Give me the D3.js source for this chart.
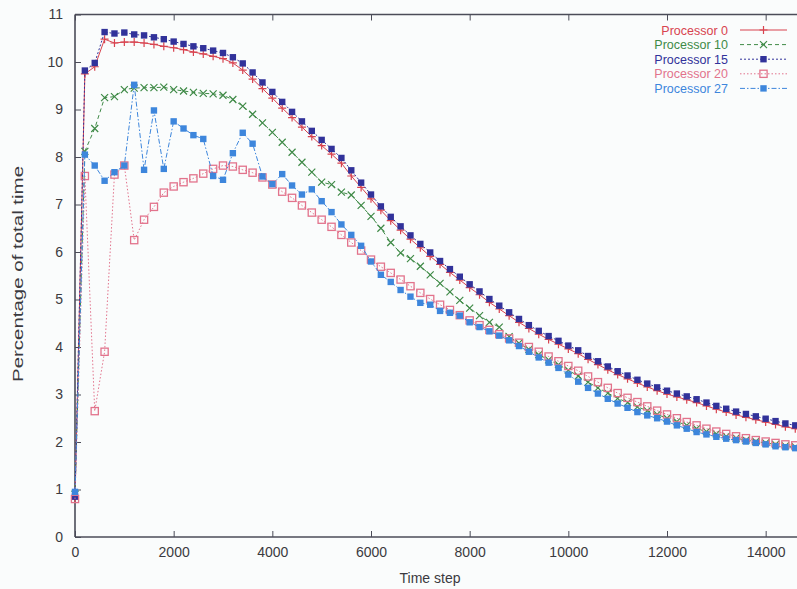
<!DOCTYPE html>
<html>
<head>
<meta charset="utf-8">
<script src="https://cdn.jsdelivr.net/npm/d3@7"></script>
<style>
  body { margin: 0; background: #fafcfc; }
  svg text { font-family: "Liberation Sans", Arial, sans-serif; }
</style>
</head>
<body>
<svg id="chart"></svg>
<script>
// sample positions (time steps)
const timeSteps = [
  0, 200, 400, 600, 800, 1000, 1200, 1400, 1600, 1800,
  2000, 2200, 2400, 2600, 2800, 3000, 3200, 3400, 3600, 3800,
  4000, 4200, 4400, 4600, 4800, 5000, 5200, 5400, 5600, 5800,
  6000, 6200, 6400, 6600, 6800, 7000, 7200, 7400, 7600, 7800,
  8000, 8200, 8400, 8600, 8800, 9000, 9200, 9400, 9600, 9800,
  10000, 10200, 10400, 10600, 10800, 11000, 11200, 11400, 11600, 11800,
  12000, 12200, 12400, 12600, 12800, 13000, 13200, 13400, 13600, 13800,
  14000, 14200, 14400, 14600, 14800, 15000
];

const proc0 = [
  0.8, 9.75, 9.9, 10.48, 10.4, 10.42, 10.42, 10.4, 10.37, 10.33,
  10.3, 10.26, 10.21, 10.17, 10.12, 10.07, 9.98, 9.83, 9.64, 9.44,
  9.24, 9.03, 8.83, 8.63, 8.43, 8.24, 8.06, 7.87, 7.6, 7.36,
  7.12, 6.88, 6.66, 6.46, 6.27, 6.09, 5.91, 5.74, 5.57, 5.41,
  5.25, 5.1, 4.94, 4.8, 4.66, 4.52, 4.39, 4.27, 4.16, 4.06,
  3.96, 3.86, 3.74, 3.63, 3.52, 3.42, 3.33, 3.24, 3.16, 3.08,
  3.01, 2.95, 2.89, 2.83, 2.76, 2.69, 2.63, 2.57, 2.52, 2.47,
  2.42, 2.37, 2.32, 2.28, 2.24, 2.2
];

const proc10 = [
  0.9, 8.12, 8.6, 9.25, 9.27, 9.42, 9.45, 9.46, 9.46, 9.47,
  9.42, 9.39, 9.36, 9.34, 9.33, 9.3, 9.21, 9.07, 8.9, 8.72,
  8.52, 8.31, 8.1, 7.89, 7.68, 7.47, 7.42, 7.26, 7.2, 6.98,
  6.75, 6.5, 6.2, 5.98, 5.86, 5.7, 5.52, 5.34, 5.16, 4.98,
  4.82, 4.66, 4.52, 4.42, 4.22, 4.08, 3.95, 3.84, 3.73, 3.63,
  3.51, 3.39, 3.26, 3.14, 3.03, 2.92, 2.83, 2.74, 2.66, 2.58,
  2.5, 2.43, 2.35, 2.28, 2.22, 2.17, 2.12, 2.08, 2.04, 2.01,
  1.98, 1.95, 1.92, 1.9, 1.88, 1.86
];

const proc15 = [
  0.85, 9.82, 9.98, 10.63, 10.6, 10.62, 10.58, 10.56, 10.52, 10.48,
  10.43, 10.38, 10.33, 10.29, 10.24, 10.19, 10.1, 9.97, 9.78, 9.57,
  9.37, 9.16, 8.95, 8.75, 8.55, 8.36, 8.17, 7.98, 7.72, 7.46,
  7.21, 6.96, 6.74, 6.54, 6.35, 6.17, 5.99, 5.81, 5.64, 5.48,
  5.32, 5.17, 5.01, 4.87, 4.73, 4.59, 4.46, 4.34, 4.23, 4.13,
  4.03, 3.93, 3.81, 3.7, 3.59, 3.49, 3.4, 3.31, 3.23, 3.15,
  3.08, 3.02, 2.96, 2.9, 2.83, 2.76, 2.7, 2.64, 2.59, 2.54,
  2.49, 2.44, 2.39, 2.35, 2.31, 2.27
];

const proc20 = [
  0.8, 7.6, 2.65, 3.9, 7.63, 7.82, 6.25, 6.68, 6.95, 7.25,
  7.38, 7.47, 7.55, 7.65, 7.75, 7.82, 7.8, 7.73, 7.67, 7.57,
  7.42, 7.27, 7.14, 6.98, 6.83, 6.68, 6.53, 6.36, 6.2, 6.03,
  5.84, 5.69, 5.56, 5.42, 5.28, 5.14, 5.01, 4.89, 4.78, 4.67,
  4.56, 4.46, 4.36, 4.27, 4.18, 4.09, 4.0, 3.9, 3.8, 3.7,
  3.6, 3.5, 3.38, 3.26, 3.14, 3.03, 2.93, 2.84, 2.75, 2.66,
  2.58, 2.5, 2.42, 2.35, 2.28, 2.22, 2.17, 2.12, 2.08, 2.04,
  2.01, 1.98, 1.95, 1.93, 1.91, 1.89
];

const proc27 = [
  0.95, 8.05, 7.82, 7.5, 7.68, 7.82, 9.52, 7.73, 8.98, 7.75,
  8.75, 8.6, 8.46, 8.38, 7.6, 7.52, 8.08, 8.51, 8.28, 7.59,
  7.43, 7.64, 7.4, 7.21, 7.32, 7.07, 6.84, 6.58, 6.36, 6.13,
  5.8, 5.52, 5.37, 5.2, 5.06, 4.93, 4.89, 4.76, 4.72, 4.66,
  4.52, 4.42, 4.33, 4.24, 4.14, 4.02, 3.9, 3.78, 3.67, 3.56,
  3.42, 3.27, 3.14, 3.02, 2.91, 2.81, 2.72, 2.63, 2.56, 2.5,
  2.43, 2.35, 2.28, 2.21, 2.16, 2.11, 2.07, 2.04, 2.01, 1.98,
  1.95, 1.91, 1.89, 1.87, 1.85, 1.83
];

const seriesNames = ["Processor 0", "Processor 10", "Processor 15", "Processor 20", "Processor 27"];
const xTicks = [0, 2000, 4000, 6000, 8000, 10000, 12000, 14000];
const yTicks = [0, 1, 2, 3, 4, 5, 6, 7, 8, 9, 10, 11];

const width = 797, height = 589;

const svg = d3.select("#chart")
  .attr("width", width)
  .attr("height", height);

const x = d3.scaleLinear().domain([0, 15000]).range([75, 815]);
const y = d3.scaleLinear().domain([0, 11]).range([537, 14.5]);

const axisColor = "#4b4c58";
const textColor = "#3a3a40";

// series styles: colour, dash, marker kind
const styles = [
  { color: "#d8434f", dash: null, marker: "plus" },
  { color: "#3f8a47", dash: "4,3", marker: "cross" },
  { color: "#31329a", dash: "2,2", marker: "fsquare" },
  { color: "#e2738c", dash: "1.5,2", marker: "osquare" },
  { color: "#3d86dc", dash: "5,2,1.5,2", marker: "fsquare" }
];

const allSeries = [proc0, proc10, proc15, proc20, proc27].map((vals, i) => ({
  name: seriesNames[i],
  style: styles[i],
  points: timeSteps.map((t, j) => ({ t, v: vals[j] }))
}));

// axes
const gx = svg.append("g")
  .attr("transform", `translate(0,${y(0)})`)
  .call(d3.axisBottom(x).tickValues(xTicks).tickSize(-6).tickPadding(10).tickFormat(d3.format("d")));

const gxTop = svg.append("g")
  .attr("transform", `translate(0,${y(11)})`)
  .call(d3.axisTop(x).tickValues(xTicks).tickSize(-6).tickFormat(""));

const gy = svg.append("g")
  .attr("transform", `translate(${x(0)},0)`)
  .call(d3.axisLeft(y).tickValues(yTicks).tickSize(-6).tickPadding(12));

[gx, gxTop, gy].forEach(g => {
  g.select(".domain").remove();
  g.selectAll(".tick line").attr("stroke", axisColor).attr("stroke-width", 1);
  g.selectAll(".tick text")
    .attr("fill", textColor)
    .style("font-size", "14px");
});

// frame
const frame = svg.append("g")
  .attr("stroke", axisColor)
  .attr("stroke-width", 1.6)
  .attr("fill", "none");
frame.append("line").attr("x1", x(0)).attr("x2", x(15000)).attr("y1", y(0)).attr("y2", y(0));
frame.append("line").attr("x1", x(0)).attr("x2", x(15000)).attr("y1", y(11)).attr("y2", y(11));
frame.append("line").attr("x1", x(0)).attr("x2", x(0)).attr("y1", y(0)).attr("y2", y(11));

// axis labels
svg.append("text")
  .attr("x", 430)
  .attr("y", 583)
  .attr("text-anchor", "middle")
  .attr("fill", textColor)
  .style("font-size", "14px")
  .text("Time step");

svg.append("text")
  .attr("transform", `translate(23,${274}) rotate(-90)`)
  .attr("text-anchor", "middle")
  .attr("fill", textColor)
  .attr("textLength", 216)
  .attr("lengthAdjust", "spacingAndGlyphs")
  .style("font-size", "15px")
  .text("Percentage of total time");

// markers
function drawMarker(g, kind, color, cx, cy) {
  if (kind === "plus") {
    g.append("path")
      .attr("d", `M${cx - 4},${cy}H${cx + 4}M${cx},${cy - 4}V${cy + 4}`)
      .attr("stroke", color).attr("stroke-width", 1.2).attr("fill", "none");
  } else if (kind === "cross") {
    g.append("path")
      .attr("d", `M${cx - 3.5},${cy - 3.5}L${cx + 3.5},${cy + 3.5}M${cx - 3.5},${cy + 3.5}L${cx + 3.5},${cy - 3.5}`)
      .attr("stroke", color).attr("stroke-width", 1.2).attr("fill", "none");
  } else if (kind === "fsquare") {
    g.append("rect")
      .attr("x", cx - 3.2).attr("y", cy - 3.2)
      .attr("width", 6.4).attr("height", 6.4)
      .attr("fill", color);
  } else if (kind === "osquare") {
    g.append("rect")
      .attr("x", cx - 3.6).attr("y", cy - 3.6)
      .attr("width", 7.2).attr("height", 7.2)
      .attr("fill", "none")
      .attr("stroke", color).attr("stroke-width", 1.3);
  }
}

const line = d3.line()
  .x(d => x(d.t))
  .y(d => y(d.v));

allSeries.forEach(s => {
  const g = svg.append("g").attr("class", "series");
  g.append("path")
    .datum(s.points)
    .attr("d", line)
    .attr("fill", "none")
    .attr("stroke", s.style.color)
    .attr("stroke-width", 1)
    .attr("stroke-dasharray", s.style.dash);
  s.points.forEach(p => drawMarker(g, s.style.marker, s.style.color, x(p.t), y(p.v)));
});

// legend
const legend = svg.append("g");
allSeries.forEach((s, i) => {
  const ly = 30 + i * 14.6;
  legend.append("text")
    .attr("x", 728)
    .attr("y", ly + 4.5)
    .attr("text-anchor", "end")
    .attr("fill", s.style.color)
    .style("font-size", "12.5px")
    .text(s.name);
  legend.append("line")
    .attr("x1", 740).attr("x2", 787)
    .attr("y1", ly).attr("y2", ly)
    .attr("stroke", s.style.color)
    .attr("stroke-width", 1)
    .attr("stroke-dasharray", s.style.dash);
  drawMarker(legend, s.style.marker, s.style.color, 763.5, ly);
});
</script>
</body>
</html>
